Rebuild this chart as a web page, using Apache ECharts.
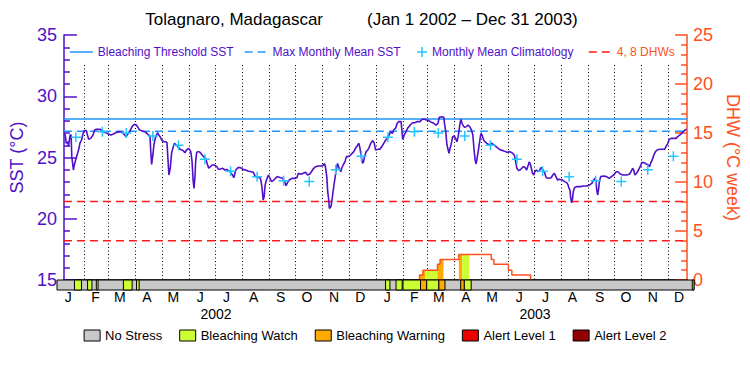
<!DOCTYPE html>
<html><head><meta charset="utf-8">
<script src="https://cdn.jsdelivr.net/npm/echarts@6/dist/echarts.min.js"></script>
<style>html,body{margin:0;padding:0;background:#fff}#c{width:750px;height:375px}</style>
</head><body><div id="c"></div>
<script>
// ---------- data ----------
const siteName = 'Tolagnaro, Madagascar';
const periodLabel = '(Jan 1 2002 \u2013 Dec 31 2003)';
const startDate = '2002-01-01';
const endDate = '2003-12-31';
const years = [2002, 2003];
const monthLetters = ['J','F','M','A','M','J','J','A','S','O','N','D'];

// SST: day number since 1 Jan 2002, value in deg C
const sstDay = [0,1.5,2.7,4.6,5.3,6.1,7.3,8.4,9.2,11.1,12.2,13.7,16.0,17.6,18.7,20.6,22.5,23.7,26.3,27.5,29.0,31.3,34.0,35.9,37.8,42.7,45.4,49.2,51.9,54.9,58.0,60.7,65.6,68.3,71.0,72.9,75.2,77.8,79.7,82.4,84.7,86.6,88.5,91.2,93.8,96.1,98.8,100.7,101.5,102.6,103.8,105.3,106.8,108.3,109.5,111.0,112.9,114.8,116.7,119.0,120.6,121.3,122.8,124.4,125.9,127.4,129.3,131.2,133.5,135.8,138.1,139.6,141.5,143.4,145.7,
146.5,148.4,149.9,151.1,152.2,153.4,154.1,155.3,156.8,159.1,161.7,164.4,165.9,167.5,169.4,171.3,173.2,175.9,178.9,180.8,182.7,185.8,188.4,190.4,194.2,197.2,198.8,201.0,203.7,206.4,209.4,212.5,215.2,219.0,221.6,223.9,226.6,228.5,230.4,231.6,233.1,234.2,235.4,236.9,239.2,241.1,243.0,245.6,249.5,253.3,255.9,258.3,259.8,261.7,263.6,266.7,270.5,272.4,274.3,277.3,280.0,282.7,285.0,
287.6,289.5,292.2,294.5,297.2,301.0,303.7,304.8,306.0,307.5,308.6,309.8,310.5,312.4,313.6,315.1,316.2,317.4,318.1,318.9,320.1,322.0,323.9,325.0,326.6,328.9,330.4,332.6,335.4,337.2,339.1,341.0,343.0,344.9,346.0,347.9,349.4,350.6,351.7,353.6,355.5,357.0,359.0,361.3,362.8,364.7,367.7,369.6,372.3,374.6,376.5,378.4,380.4,382.3,384.2,386.1,388.0,389.9,391.4,394.4,395.2,396.3,398.2,400.2,402.0,405.1,407.8,410.4,413.5,416.6,419.2,421.9,424.2,426.9,430.0,432.6,
435.3,437.6,439.1,442.1,444.4,445.2,446.7,447.9,449.0,450.5,451.7,452.8,453.6,454.7,456.6,458.2,459.7,461.2,463.1,464.3,465.8,467.3,468.9,470.8,472.7,474.6,476.5,478.4,479.5,481.0,482.2,483.3,484.9,486.0,487.2,487.9,489.1,491.0,492.5,494.8,497.4,500.1,503.2,507.0,510.8,513.8,516.5,518.4,521.5,524.2,526.8,528.0,529.9,531.8,533.7,535.6,537.5,539.4,541.3,543.2,544.4,545.9,548.2,549.7,550.9,552.8,554.7,556.6,558.5,560.4,562.3,564.2,567.3,570.0,571.9,573.8,
577.5,579.4,583.3,585.9,588.2,589.8,590.9,592.0,592.8,593.9,595.1,595.8,597.4,599.7,604.2,608.1,611.9,614.9,617.6,619.5,621.4,622.6,623.3,624.5,625.6,626.4,627.9,631.0,634.8,637.8,640.5,643.2,646.2,648.1,650.8,653.9,657.7,661.5,663.4,665.3,666.5,668.0,669.9,672.2,674.1,676.0,678.7,681.3,683.6,685.1,686.3,688.2,690.1,692.0,694.0,696.6,699.7,702.7,704.3,706.5,708.1,710.4,714.2,716.1,718.0,720.7,722.6,724.5,726.5,728.4];
const sstValue = [26.97,26.84,26.16,26.29,25.88,26.29,26.84,26.84,25.07,23.98,24.39,24.80,25.34,25.75,26.16,26.43,26.97,27.19,27.19,26.84,26.48,26.56,26.84,27.24,27.30,27.30,27.11,27.03,26.92,26.84,26.92,27.03,27.11,27.03,26.84,26.70,26.97,27.24,27.52,27.71,27.65,27.46,27.24,27.19,27.11,27.03,26.84,26.76,25.61,24.44,25.07,26.02,26.56,26.84,27.03,26.84,26.65,26.38,26.29,26.29,26.21,25.34,23.57,24.12,25.34,25.75,26.16,26.02,25.88,25.67,25.61,25.56,25.39,25.61,25.75,
25.69,25.48,24.66,23.16,22.48,23.57,24.66,25.42,25.48,25.42,25.20,24.99,24.93,24.52,24.12,24.25,24.39,24.39,24.25,24.03,24.06,24.12,23.98,24.03,23.84,23.57,23.35,23.98,24.17,24.17,24.03,23.98,23.90,23.84,23.79,23.44,23.35,23.44,23.16,22.62,21.53,21.80,22.76,23.16,23.57,23.30,23.03,23.16,23.44,23.35,23.30,23.03,22.70,22.97,23.16,23.30,23.30,23.35,23.71,23.63,23.71,23.79,23.57,
23.65,23.84,24.12,24.25,24.31,24.31,24.39,24.52,24.20,23.44,22.21,21.53,20.85,20.99,21.53,22.35,22.89,23.44,23.84,24.12,24.52,24.12,23.84,24.12,24.39,24.66,25.07,25.07,25.20,25.34,25.48,25.75,25.94,26.16,25.88,25.07,24.52,24.66,25.07,25.48,25.61,25.83,26.16,26.38,26.21,25.61,25.67,25.67,25.94,26.21,26.43,26.56,26.84,27.11,26.97,27.30,27.38,27.79,27.93,27.93,27.38,26.48,26.84,27.11,27.38,27.65,27.84,27.84,27.93,27.93,28.12,28.12,28.06,28.01,27.87,27.79,
27.65,27.79,28.28,28.33,28.28,27.79,27.11,26.16,25.75,25.34,25.75,26.02,26.29,26.70,26.76,26.56,26.29,26.70,27.65,28.12,27.79,27.57,27.46,27.52,27.65,27.52,27.30,26.84,25.88,24.80,24.47,24.93,25.61,26.16,26.70,26.97,26.84,26.43,26.29,26.16,26.02,26.16,26.02,25.80,25.61,25.56,25.48,25.42,25.48,25.39,25.20,24.85,24.12,23.93,23.98,24.12,24.25,24.20,23.98,24.39,24.66,24.39,23.71,23.57,23.84,23.98,23.84,23.98,24.20,23.98,23.76,23.35,23.30,23.35,23.57,23.71,
23.16,23.22,23.16,23.03,22.95,22.76,22.48,22.35,21.75,21.31,21.67,22.21,22.56,22.62,22.62,22.67,22.67,22.76,22.89,23.16,23.30,23.03,22.35,21.94,22.48,23.03,23.44,23.49,23.44,23.30,23.44,23.57,23.84,23.84,23.65,23.57,23.57,23.63,23.84,24.12,23.98,23.57,23.71,23.98,24.25,24.58,24.58,24.47,24.39,24.25,24.52,24.80,25.20,25.48,25.61,25.67,25.67,25.67,25.88,26.16,26.48,26.56,26.56,26.56,26.70,26.84,26.97,27.11,27.24,27.30];

// Monthly mean climatology (Jan..Dec)
const climMonthly = [26.65, 27.10, 27.00, 26.75, 26.00, 24.85, 23.87, 23.42, 23.10, 23.05, 24.00, 25.10];
const maxMonthlyMean = 27.14;
const bleachingThreshold = 28.14;
const dhwLevels = [4, 8];

// Degree heating weeks (step changes)
const dhwDates = ['2003-02-21','2003-02-21','2003-02-25','2003-03-14','2003-03-17','2003-04-08','2003-05-16','2003-05-19','2003-06-05','2003-06-09','2003-07-01'];
const dhwValues = [0, 0.5, 1.0, 1.6, 2.1, 2.6, 2.1, 1.6, 1.0, 0.5, 0];

// Stress level periods (0 none, 1 watch, 2 warning, 3 alert 1, 4 alert 2)
const stressNames = ['No Stress','Bleaching Watch','Bleaching Warning','Alert Level 1','Alert Level 2'];
const stressColors = ['#c8c8c8','#ccff33','#ffaa00','#ee0000','#900000'];
const stressStart = ['2002-01-01','2002-01-21','2002-02-05','2002-02-15','2002-03-18','2002-04-02','2003-01-12','2003-01-24','2003-02-01','2003-02-21','2003-02-28','2003-03-14','2003-04-08','2003-04-12','2003-12-29'];
const stressEnd   = ['2003-12-31','2002-01-29','2002-02-10','2002-02-17','2002-03-28','2002-04-05','2003-01-17','2003-01-31','2003-02-21','2003-02-28','2003-03-14','2003-03-21','2003-04-12','2003-04-20','2003-12-31'];
const stressLevel = [0,1,1,1,1,1,1,1,1,2,1,2,2,1,1];

// ---------- styles ----------
const FONT = 'Liberation Sans, Arial, sans-serif';
const PURPLE = '#5010c8';
const BLUE = '#1e96ff';
const CYAN = '#22c8ff';
const RED = '#ff1a1a';
const ORANGE = '#ff5020';
const GRID = {left: 57, right: 56};
const dashed = [8, 5];

// ---------- derived ----------
const DAY = 86400000;
const toTime = s => Date.parse(s + 'T00:00:00Z');
const t0 = toTime(startDate), t1 = toTime(endDate);
const sstData = sstDay.map((d, i) => [t0 + d * DAY, sstValue[i]]);
const climData = [];
years.forEach(y => climMonthly.forEach((v, m) => climData.push([Date.UTC(y, m, 15), v])));
const dhwPts = dhwDates.map((d, i) => [toTime(d), dhwValues[i]]);
const segments = stressStart.map((s, i) => [toTime(s), toTime(stressEnd[i]), stressLevel[i]]);
const dayCats = [];
for (let t = t0; t <= t1; t += DAY) dayCats.push(new Date(t).toISOString().slice(0, 10));

function dhwAt(t) { let v = 0; for (const p of dhwPts) { if (p[0] <= t) v = p[1]; else break; } return v; }

function barItem(params, api) {
  const p0 = api.coord([api.value(0), 1]);
  const p1 = api.coord([api.value(1), 0]);
  return {type: 'rect', shape: {x: p0[0], y: p0[1], width: p1[0] - p0[0], height: p1[1] - p0[1]},
    style: {fill: api.visual('color'), stroke: '#000', lineWidth: 1}};
}
function fillItem(params, api) {
  const s = api.value(0), e = api.value(1), lvl = api.value(2);
  let v = dhwAt(s);
  const pts = [api.coord([s, 0]), api.coord([s, v])];
  let any = v > 0;
  for (const p of dhwPts) {
    if (p[0] > s && p[0] < e) { pts.push(api.coord([p[0], v])); v = p[1]; if (v > 0) any = true; pts.push(api.coord([p[0], v])); }
  }
  pts.push(api.coord([e, v])); pts.push(api.coord([e, 0]));
  if (!any) return null;
  return {type: 'polygon', shape: {points: pts}, style: {fill: stressColors[lvl]}};
}

const series = [
  {name: 'Bleaching Threshold SST', type: 'line', xAxisIndex: 0, yAxisIndex: 0, symbol: 'none',
   data: [[t0, bleachingThreshold], [t1, bleachingThreshold]], lineStyle: {color: BLUE, width: 1.5}, itemStyle: {color: BLUE}, z: 3},
  {name: 'Max Monthly Mean SST', type: 'line', xAxisIndex: 0, yAxisIndex: 0, symbol: 'none',
   data: [[t0, maxMonthlyMean], [t1, maxMonthlyMean]], lineStyle: {color: BLUE, width: 1.5, type: dashed}, itemStyle: {color: BLUE}, z: 3}
];
dhwLevels.forEach(l => series.push({name: '4, 8 DHWs', type: 'line', xAxisIndex: 0, yAxisIndex: 1, symbol: 'none',
  data: [[t0, l], [t1, l]], lineStyle: {color: RED, width: 1.5, type: dashed}, itemStyle: {color: RED}, z: 3}));
series.push(
  {name: 'DHW fill', type: 'custom', xAxisIndex: 0, yAxisIndex: 1, renderItem: fillItem,
   data: segments.filter(s => s[2] > 0), encode: {x: [0, 1]}, z: 2, silent: true},
  {name: 'DHW', type: 'line', xAxisIndex: 0, yAxisIndex: 1, step: 'end', symbol: 'none',
   data: dhwPts, lineStyle: {color: ORANGE, width: 1.5}, itemStyle: {color: ORANGE}, z: 4},
  {name: 'SST', type: 'line', xAxisIndex: 0, yAxisIndex: 0, symbol: 'none', data: sstData,
   lineStyle: {color: PURPLE, width: 1.6}, itemStyle: {color: PURPLE}, z: 5},
  {name: 'Monthly Mean Climatology', type: 'scatter', xAxisIndex: 0, yAxisIndex: 0,
   symbol: 'path://M4.25,0h1.5v10h-1.5z M0,4.25h10v1.5h-10z', symbolSize: 10, data: climData,
   itemStyle: {color: CYAN, opacity: 1}, z: 6}
);
stressNames.forEach((n, lvl) => series.push({name: n, type: 'custom', xAxisIndex: 3, yAxisIndex: 2,
  renderItem: barItem, data: segments.filter(s => s[2] === lvl), encode: {x: [0, 1]},
  itemStyle: {color: stressColors[lvl]}, z: 10 + (lvl > 0 ? 1 : 0), silent: true}));

const hiddenAxis = {axisLine: {show: false}, axisTick: {show: false}, axisLabel: {show: false}, splitLine: {show: false}};
const noSymbol = {color: 'rgba(0,0,0,0)', borderWidth: 0, opacity: 0};

const option = {
  animation: false,
  textStyle: {fontFamily: FONT},
  title: [
    {text: siteName, right: 427, top: 11, padding: 0, textStyle: {fontSize: 17, fontWeight: 'normal', color: '#000', fontFamily: FONT}},
    {text: periodLabel, left: 367, top: 11, padding: 0, textStyle: {fontSize: 17, fontWeight: 'normal', color: '#000', fontFamily: FONT}}
  ],
  legend: [
    {data: [
      {name: 'Bleaching Threshold SST', itemStyle: noSymbol, lineStyle: {color: BLUE, width: 1.5, type: 'solid'}},
      {name: 'Max Monthly Mean SST', itemStyle: noSymbol, lineStyle: {color: BLUE, width: 1.5, type: dashed}}],
     left: 69, top: 46, itemWidth: 23, itemHeight: 10, itemGap: 10,
     padding: 0, textStyle: {color: PURPLE, fontSize: 12, fontFamily: FONT}, selectedMode: false},
    {data: ['Monthly Mean Climatology'], left: 417, top: 46, itemWidth: 10, itemHeight: 10, padding: 0,
     textStyle: {color: PURPLE, fontSize: 12, fontFamily: FONT}, selectedMode: false},
    {data: [{name: '4, 8 DHWs', itemStyle: noSymbol, lineStyle: {color: RED, width: 1.5, type: dashed}}],
     left: 588, top: 46, itemWidth: 23, itemHeight: 10, padding: 0,
     textStyle: {color: ORANGE, fontSize: 12, fontFamily: FONT}, selectedMode: false},
    {data: stressNames, left: 'center', top: 329, itemWidth: 16, itemHeight: 11, itemGap: 17, icon: 'rect', padding: 0,
     itemStyle: {borderColor: '#000', borderWidth: 1}, textStyle: {color: '#000', fontSize: 13, fontFamily: FONT}, selectedMode: false}
  ],
  grid: [
    {left: GRID.left, right: GRID.right, top: 35, height: 245},
    {left: GRID.left, right: GRID.right, top: 65, height: 215},
    {left: GRID.left, right: GRID.right, top: 280, height: 10}
  ],
  xAxis: [
    Object.assign({}, hiddenAxis, {gridIndex: 0, type: 'time', min: t0, max: t1, position: 'top',
      axisLine: {show: true, lineStyle: {color: '#000', width: 1.5}}}),
    {gridIndex: 1, type: 'category', data: dayCats, boundaryGap: false, position: 'bottom',
      axisLine: {show: false}, axisTick: {show: false},
      axisLabel: {interval: (i, v) => v.slice(8) === '14', formatter: v => monthLetters[+v.slice(5, 7) - 1],
        color: '#000', fontSize: 14, margin: 10, fontFamily: FONT},
      splitLine: {show: true, interval: (i, v) => i > 0 && v.slice(8) === '01', lineStyle: {color: '#000', width: 1, type: [1, 2.5]}}},
    {gridIndex: 1, type: 'category', data: dayCats, boundaryGap: false, position: 'bottom',
      axisLine: {show: false}, axisTick: {show: false}, splitLine: {show: false},
      axisLabel: {interval: (i, v) => v.slice(5) === '07-02', formatter: v => v.slice(0, 4),
        color: '#000', fontSize: 14, margin: 27, fontFamily: FONT}},
    Object.assign({}, hiddenAxis, {gridIndex: 2, type: 'time', min: t0, max: t1})
  ],
  yAxis: [
    {gridIndex: 0, type: 'value', min: 15, max: 35, interval: 5, position: 'left',
     name: 'SST (\u00b0C)', nameLocation: 'middle', nameGap: 33, nameRotate: 90,
     nameTextStyle: {color: PURPLE, fontSize: 18, fontFamily: FONT},
     axisLine: {show: true, lineStyle: {color: PURPLE, width: 1.5}},
     axisTick: {show: true, inside: true, length: 13, lineStyle: {color: PURPLE, width: 1.5}},
     minorTick: {show: true, splitNumber: 5, length: 6, lineStyle: {color: PURPLE, width: 1.5}},
     axisLabel: {color: PURPLE, fontSize: 18, margin: 7, fontFamily: FONT}, splitLine: {show: false}},
    {gridIndex: 0, type: 'value', min: 0, max: 25, interval: 5, position: 'right',
     name: 'DHW (\u00b0C week)', nameLocation: 'middle', nameGap: 31, nameRotate: -90,
     nameTextStyle: {color: ORANGE, fontSize: 18, fontFamily: FONT},
     axisLine: {show: true, lineStyle: {color: ORANGE, width: 1.5}},
     axisTick: {show: true, inside: true, length: 12, lineStyle: {color: ORANGE, width: 1.5}},
     minorTick: {show: true, splitNumber: 5, length: 6, lineStyle: {color: ORANGE, width: 1.5}},
     axisLabel: {color: ORANGE, fontSize: 18, margin: 6, fontFamily: FONT}, splitLine: {show: false}},
    Object.assign({}, hiddenAxis, {gridIndex: 2, type: 'value', min: 0, max: 1}),
    Object.assign({}, hiddenAxis, {gridIndex: 1, type: 'value', min: 0, max: 1})
  ],
  series: series
};

const chart = echarts.init(document.getElementById('c'), null, {renderer: 'svg'});
chart.setOption(option);
</script>
</body></html>
